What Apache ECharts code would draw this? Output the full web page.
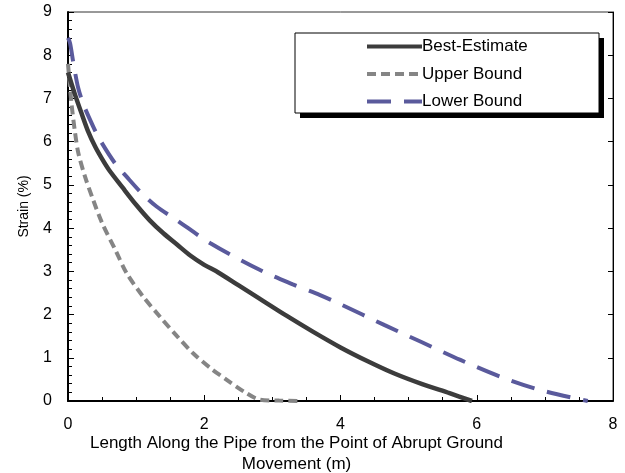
<!DOCTYPE html>
<html><head><meta charset="utf-8">
<script src="https://cdn.jsdelivr.net/npm/echarts@6/dist/echarts.min.js"></script>
<style>html,body{margin:0;padding:0;background:#fff}#c{width:625px;height:473px}</style>
</head><body><div id="c"></div>
<script>
const seriesNames = ['Best-Estimate', 'Upper Bound', 'Lower Bound'];
const xTicks = [0, 2, 4, 6, 8];
const yTicks = [0, 1, 2, 3, 4, 5, 6, 7, 8, 9];
const bestX = [0, 0.1, 0.2, 0.3, 0.4, 0.5, 0.6, 0.8, 1.0, 1.2, 1.4, 1.6, 1.8, 2.0, 2.2, 2.5, 2.8, 3.2, 3.6, 4.0, 4.4, 4.8, 5.2, 5.6, 5.93];
const bestY = [7.6, 7.1, 6.65, 6.22, 5.88, 5.6, 5.35, 4.94, 4.54, 4.18, 3.88, 3.62, 3.36, 3.15, 2.98, 2.68, 2.38, 1.98, 1.6, 1.24, 0.92, 0.63, 0.39, 0.18, 0];
const upperX = [0, 0.05, 0.1, 0.15, 0.25, 0.37, 0.5, 0.7, 0.86, 1.1, 1.35, 1.6, 1.84, 2.1, 2.33, 2.6, 2.82, 3.1, 3.38];
const upperY = [7.8, 6.9, 6.25, 5.75, 5.19, 4.65, 4.12, 3.48, 2.96, 2.42, 1.95, 1.5, 1.1, 0.75, 0.49, 0.2, 0.03, 0.01, 0];
const lowerX = [0, 0.03, 0.08, 0.15, 0.23, 0.37, 0.47, 0.69, 0.86, 1.08, 1.3, 1.6, 2.09, 2.82, 3.3, 3.7, 4.0, 4.64, 5.18, 5.76, 6.35, 6.94, 7.63];
const lowerY = [8.4, 8.28, 7.81, 7.24, 6.85, 6.35, 6.04, 5.5, 5.19, 4.81, 4.5, 4.18, 3.65, 3.03, 2.7, 2.45, 2.24, 1.76, 1.37, 0.95, 0.56, 0.25, 0];

const zip = (xs, ys) => xs.map((x, i) => [x, ys[i]]);
const chart = echarts.init(document.getElementById('c'), null, {renderer: 'canvas'});
const font = 'Liberation Sans, Arial, sans-serif';
const axisCommon = {
  axisLine: {show: true, lineStyle: {color: '#000', width: 2}},
  axisTick: {show: true, inside: true, length: 6, lineStyle: {color: '#000'}},
  splitLine: {show: false}
};
chart.setOption({
  animation: false,
  backgroundColor: '#fff',
  grid: {left: 68, right: 12, top: 12, bottom: 72, show: true, borderColor: '#333', borderWidth: 1,
    containLabel: false, outerBoundsMode: 'none'},
  graphic: [
    {type: 'rect', z: 10, shape: {x: 300, y: 38, width: 304, height: 80}, style: {fill: '#000'}},
    {type: 'rect', z: 11, shape: {x: 295, y: 33, width: 304, height: 80}, style: {fill: '#fff', stroke: '#000', lineWidth: 1}}
  ],
  legend: {
    orient: 'vertical', left: 295, top: 33, z: 20,
    padding: [5, 80, 5, 70],
    itemWidth: 55, itemHeight: 14, itemGap: 10.5,
    itemStyle: {opacity: 0},
    lineStyle: {width: 4},
    textStyle: {color: '#000', fontSize: 17, fontFamily: font, lineHeight: 14, padding: [0, 0, 0, -5]},
    data: seriesNames
  },
  xAxis: [{
    type: 'value', min: 0, max: 8, interval: 2,
    ...axisCommon,
    minorTick: {show: true, splitNumber: 4, length: 4, lineStyle: {color: '#000'}},
    axisLabel: {color: '#000', fontSize: 16, fontFamily: font, margin: 16,
      formatter: v => xTicks.includes(v) ? String(v) : ''},
    name: 'Length Along the Pipe from the Point of Abrupt Ground\nMovement (m)',
    nameLocation: 'middle', nameGap: 32, nameMoveOverlap: false,
    nameTextStyle: {color: '#000', fontSize: 17, fontFamily: font, lineHeight: 21, padding: [0, 88, 0, 0], verticalAlign: 'top'}
  }],
  yAxis: [{
    type: 'value', min: 0, max: 9, interval: 1,
    ...axisCommon,
    minorTick: {show: true, splitNumber: 5, length: 4, lineStyle: {color: '#000'}},
    axisLabel: {color: '#000', fontSize: 16, fontFamily: font, margin: 16,
      formatter: v => yTicks.includes(v) ? String(v) : ''},
    name: 'Strain (%)', nameLocation: 'middle', nameGap: 37, nameMoveOverlap: false,
    nameTextStyle: {color: '#000', fontSize: 14, fontFamily: font}
  }, {
    type: 'value', min: 0, max: 9, interval: 1, position: 'right',
    axisLine: {show: true, lineStyle: {color: '#000', width: 1}},
    axisTick: {show: true, inside: true, length: 5, lineStyle: {color: '#000'}},
    axisLabel: {show: false}, splitLine: {show: false}
  }],
  series: [
    {name: seriesNames[0], type: 'line', data: zip(bestX, bestY), smooth: 0.3, symbol: 'none',
     lineStyle: {color: '#3c3c3c', width: 4.5, type: 'solid'}, itemStyle: {color: '#3c3c3c'}, z: 4},
    {name: seriesNames[1], type: 'line', data: zip(upperX, upperY), smooth: 0.3, symbol: 'none',
     lineStyle: {color: '#858585', width: 4, type: [9, 5]}, itemStyle: {color: '#858585'}, z: 3},
    {name: seriesNames[2], type: 'line', data: zip(lowerX, lowerY), smooth: 0.3, symbol: 'none',
     lineStyle: {color: '#5a5a9c', width: 4, type: [24, 13]}, itemStyle: {color: '#5a5a9c'}, z: 2}
  ]
});
</script></body></html>
